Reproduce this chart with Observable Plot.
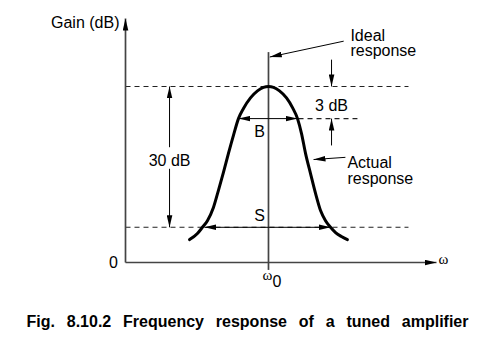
<!DOCTYPE html>
<html><head><meta charset="utf-8">
<script src="https://cdn.jsdelivr.net/npm/d3@7"></script>
<script src="https://cdn.jsdelivr.net/npm/@observablehq/plot@0.6"></script>
<style>
body{margin:0;background:#fff;}
#wrap{position:relative;width:495px;height:357px;overflow:hidden;background:#fff;}
#chart{position:absolute;left:0;top:0;}
#cap{position:absolute;left:0;width:495px;top:313px;text-align:center;font:bold 16px "Liberation Sans",Arial,sans-serif;line-height:18px;color:#000;white-space:nowrap;}
</style></head><body>
<div id="wrap"><div id="chart"></div><div id="cap"><span id="capText">Fig. 8.10.2 Frequency response of a tuned amplifier</span></div></div>
<script>
// Actual response curve: omega / omega0 and gain (arbitrary schematic units)
const curveOmega = [0.448,0.503,0.538,0.573,0.615,0.650,0.685,0.720,0.755,0.790,0.825,0.874,0.923,0.965,1.000,
                    1.035,1.077,1.126,1.168,1.203,1.231,1.259,1.294,1.329,1.364,1.399,1.434,1.469,1.510,1.552];
const curveGain  = [5.2,6.6,8.0,9.5,12.5,16.4,20.5,24.8,28.9,32.7,35.0,37.4,39.0,39.8,40.0,
                    39.8,39.0,37.4,35.2,32.7,29.3,24.8,20.2,15.7,11.8,9.5,8.0,6.8,5.9,5.2];

// Reference (dashed) levels
const dashStart = [0, 1.21, 0];
const dashEnd   = [1.979, 1.622, 1.979];
const dashGain  = [40, 32.7, 8.0];

// Ideal response (vertical line at omega0)
const idealOmega = [1];
const idealGainLow = [-1.8];
const idealGainHigh = [47.7];

// Axes with arrowheads
const axisFromOmega = [0, 0];
const axisFromGain  = [0, 0];
const axisToOmega   = [0, 2.175];
const axisToGain    = [55.45, 0];

// Annotation arrows
const arrowFromOmega = [1.526, 1.441, 1.441, 0.308, 0.308, 1, 1, 1, 1, 1.538];
const arrowFromGain  = [50.3, 46.1, 26.6, 26.2, 21.3, 32.7, 32.7, 8.0, 8.0, 23.9];
const arrowToOmega   = [1.009, 1.441, 1.441, 0.308, 0.308, 0.790, 1.203, 0.552, 1.434, 1.315];
const arrowToGain    = [46.7, 40.0, 32.7, 40.0, 8.0, 32.7, 32.7, 8.0, 8.0, 23.4];

// Text labels
const labelText   = ["Gain (dB)", "Ideal", "response", "3 dB", "30 dB", "B", "S", "Actual", "response"];
const labelOmega  = [-0.042, 1.573, 1.573, 1.441, 0.308, 0.937, 0.937, 1.552, 1.552];
const labelGain   = [54.4, 51.6, 48.1, 35.7, 23.2, 29.6, 10.5, 22.75, 19.0];
const labelAnchor = ["end", "start", "start", "middle", "middle", "middle", "middle", "start", "start"];

// Axis tick labels
const tickText  = ["0", "0"];
const tickOmega = [-0.084, 1.059];
const tickGain  = [0.0, -4.3];
const greekText  = ["ω", "ω"];
const greekOmega = [2.224, 0.993];
const greekGain  = [0.64, -2.77];

const curve = curveOmega.map((w, i) => ({w, g: curveGain[i]}));
const dashes = dashStart.map((a, i) => ({a, b: dashEnd[i], g: dashGain[i]}));
const ideal = idealOmega.map((w, i) => ({w, g1: idealGainLow[i], g2: idealGainHigh[i]}));
const axes = axisFromOmega.map((x1, i) => ({x1, y1: axisFromGain[i], x2: axisToOmega[i], y2: axisToGain[i]}));
const arrows = arrowFromOmega.map((x1, i) => ({x1, y1: arrowFromGain[i], x2: arrowToOmega[i], y2: arrowToGain[i]}));
const labels = labelText.map((t, i) => ({t, w: labelOmega[i], g: labelGain[i], a: labelAnchor[i]}));
const ticks = tickText.map((t, i) => ({t, w: tickOmega[i], g: tickGain[i]}));
const greek = greekText.map((t, i) => ({t, w: greekOmega[i], g: greekGain[i]}));

const txt = (anchor) => Plot.text(labels.filter(d => d.a === anchor), {x: "w", y: "g", text: "t", textAnchor: anchor, fontSize: 16, fill: "#000"});

const plot = Plot.plot({
  width: 495, height: 300,
  marginLeft: 125, marginRight: 59, marginTop: 18, marginBottom: 38,
  x: {domain: [0, 2.175], axis: null},
  y: {domain: [0, 55.45], axis: null},
  style: {fontFamily: '"Liberation Sans", Arial, sans-serif', fontSize: "16px", color: "#000", background: "white", overflow: "visible"},
  marks: [
    Plot.link(dashes, {x1: "a", x2: "b", y1: "g", y2: "g", stroke: "#222", strokeWidth: 1.1, strokeDasharray: "5,4"}),
    Plot.ruleX(ideal, {x: "w", y1: "g1", y2: "g2", stroke: "#444", strokeWidth: 1.7}),
    Plot.link(axes, {x1: "x1", y1: "y1", x2: "x2", y2: "y2", stroke: "#444", strokeWidth: 1.7, markerEnd: "arrow"}),
    Plot.line(curve, {x: "w", y: "g", stroke: "#000", strokeWidth: 3, curve: "monotone-x"}),
    Plot.link(arrows, {x1: "x1", y1: "y1", x2: "x2", y2: "y2", stroke: "#000", strokeWidth: 1, markerEnd: "arrow"}),
    txt("start"), txt("middle"), txt("end"),
    Plot.text(ticks, {x: "w", y: "g", text: "t", fontSize: 16, fill: "#000"}),
    Plot.text(greek, {x: "w", y: "g", text: "t", fontSize: 15, fill: "#000", fontFamily: '"Liberation Serif", "DejaVu Serif", serif'})
  ]
});

// Filled triangular arrowheads
plot.querySelectorAll("marker").forEach(m => {
  m.setAttribute("viewBox", "-12 -3 12 6");
  m.setAttribute("markerWidth", "12");
  m.setAttribute("markerHeight", "6");
  m.setAttribute("markerUnits", "userSpaceOnUse");
  m.setAttribute("orient", "auto");
  m.setAttribute("refX", "0");
  m.setAttribute("refY", "0");
  m.setAttribute("fill", "#000");
  m.setAttribute("stroke", "none");
  while (m.firstChild) m.removeChild(m.firstChild);
  const p = document.createElementNS("http://www.w3.org/2000/svg", "path");
  p.setAttribute("d", "M-12,-2.8L0,0L-12,2.8Z");
  m.appendChild(p);
});
document.getElementById("chart").appendChild(plot);

// Spread caption to match reference width
const span = document.getElementById("capText");
const w = span.getBoundingClientRect().width;
span.style.wordSpacing = ((442 - w) / 7) + "px";
</script>
</body></html>
